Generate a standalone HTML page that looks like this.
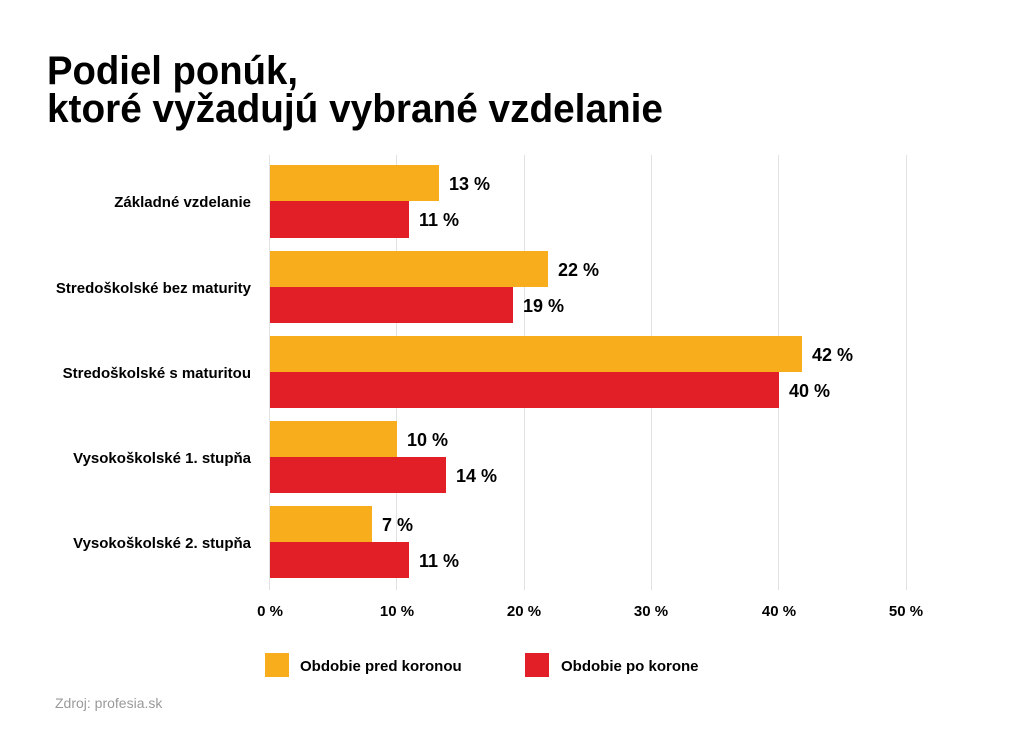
<!DOCTYPE html>
<html><head><meta charset="utf-8"><style>
html,body{margin:0;padding:0;background:#fff;}
svg{display:block;font-family:"Liberation Sans",Arial,sans-serif;}
</style></head><body>
<svg width="1024" height="754" viewBox="0 0 1024 754">
<rect width="1024" height="754" fill="#fff"/>
<text x="47" y="84" font-size="40" font-weight="bold" fill="#000" textLength="251" lengthAdjust="spacingAndGlyphs">Podiel ponúk,</text>
<text x="47" y="122" font-size="40" font-weight="bold" fill="#000" textLength="616" lengthAdjust="spacingAndGlyphs">ktoré vyžadujú vybrané vzdelanie</text>
<g stroke="#e2e2e2" stroke-width="1">
<line x1="269.5" y1="155" x2="269.5" y2="590"/>
<line x1="396.5" y1="155" x2="396.5" y2="590"/>
<line x1="524.5" y1="155" x2="524.5" y2="590"/>
<line x1="651.5" y1="155" x2="651.5" y2="590"/>
<line x1="778.5" y1="155" x2="778.5" y2="590"/>
<line x1="906.5" y1="155" x2="906.5" y2="590"/>
</g>
<g>
<rect x="270" y="165" width="169" height="36" fill="#f8ad1d"/>
<rect x="270" y="201" width="139" height="37" fill="#e21f26"/>
<rect x="270" y="251" width="278" height="36" fill="#f8ad1d"/>
<rect x="270" y="287" width="243" height="36" fill="#e21f26"/>
<rect x="270" y="336" width="532" height="36" fill="#f8ad1d"/>
<rect x="270" y="372" width="509" height="36" fill="#e21f26"/>
<rect x="270" y="421" width="127" height="36" fill="#f8ad1d"/>
<rect x="270" y="457" width="176" height="36" fill="#e21f26"/>
<rect x="270" y="506" width="102" height="36" fill="#f8ad1d"/>
<rect x="270" y="542" width="139" height="36" fill="#e21f26"/>
</g>
<g font-size="18" font-weight="bold" fill="#000">
<text x="449" y="190">13 %</text>
<text x="419" y="226">11 %</text>
<text x="558" y="276">22 %</text>
<text x="523" y="312">19 %</text>
<text x="812" y="361">42 %</text>
<text x="789" y="397">40 %</text>
<text x="407" y="446">10 %</text>
<text x="456" y="482">14 %</text>
<text x="382" y="531">7 %</text>
<text x="419" y="567">11 %</text>
</g>
<g font-size="15" font-weight="bold" fill="#000" text-anchor="end">
<text x="251" y="207">Základné vzdelanie</text>
<text x="251" y="293">Stredoškolské bez maturity</text>
<text x="251" y="378">Stredoškolské s maturitou</text>
<text x="251" y="463">Vysokoškolské 1. stupňa</text>
<text x="251" y="548">Vysokoškolské 2. stupňa</text>
</g>
<g font-size="15" font-weight="bold" fill="#000" text-anchor="middle">
<text x="270" y="616">0 %</text>
<text x="397" y="616">10 %</text>
<text x="524" y="616">20 %</text>
<text x="651" y="616">30 %</text>
<text x="779" y="616">40 %</text>
<text x="906" y="616">50 %</text>
</g>
<rect x="265" y="653" width="24" height="24" fill="#f8ad1d"/>
<text x="300" y="671" font-size="15" font-weight="bold" fill="#000">Obdobie pred koronou</text>
<rect x="525" y="653" width="24" height="24" fill="#e21f26"/>
<text x="561" y="671" font-size="15" font-weight="bold" fill="#000">Obdobie po korone</text>
<text x="55" y="708" font-size="14" fill="#9a9a9a">Zdroj: profesia.sk</text>
</svg>
</body></html>
